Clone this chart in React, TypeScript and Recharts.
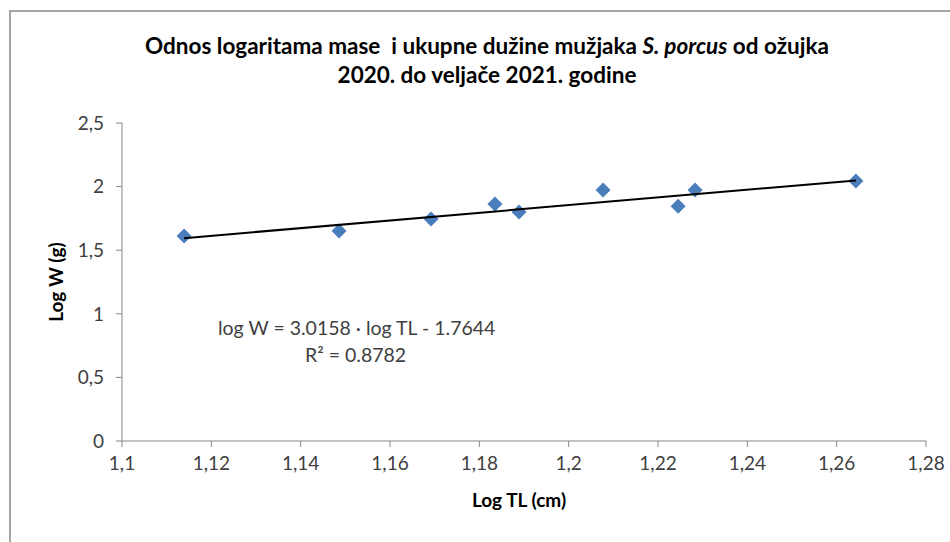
import React from 'react';
import { ScatterChart, Scatter, XAxis, YAxis } from 'recharts';

const logTL = [1.1139, 1.1486, 1.1692, 1.1835, 1.1889, 1.2077, 1.2245, 1.2283, 1.2643];
const logW = [1.611, 1.651, 1.745, 1.863, 1.8, 1.973, 1.846, 1.973, 2.044];
const xTicks = [1.1, 1.12, 1.14, 1.16, 1.18, 1.2, 1.22, 1.24, 1.26, 1.28];
const yTicks = [0, 0.5, 1, 1.5, 2, 2.5];

// Excel linear trendline coefficients, as printed on the chart
const slope = 3.0158;
const intercept = -1.7644;

const points = logTL.map((x, i) => ({ x, y: logW[i] }));
const trendX = [Math.min(...logTL), Math.max(...logTL)];
const trend = trendX.map((x) => ({ x, y: slope * x + intercept }));

const font = 'Lato, "Open Sans", sans-serif';
const comma = (v: number) => String(v).replace('.', ',');

const Diamond = (props: any) => {
    const { cx, cy } = props;
    const r = 7.5;
    return (
        <polygon
            points={`${cx},${cy - r} ${cx + r},${cy} ${cx},${cy + r} ${cx - r},${cy}`}
            fill="#4a7ebb"
        />
    );
};

export default function App() {
    return (
        <div style={{ position: 'absolute', left: 0, top: 0, width: 950, height: 542, background: '#fff', fontFamily: font }}>
            <div style={{ position: 'absolute', left: 10, top: 10, width: 940, height: 2, background: '#a6a6a6' }} />
            <div style={{ position: 'absolute', left: 9, top: 10, width: 2, height: 532, background: '#a6a6a6' }} />
            <div style={{ position: 'absolute', left: 0, top: 31, width: 974, textAlign: 'center', fontWeight: 700, fontSize: 22.5, lineHeight: '29px', color: '#000' }}>
                Odnos logaritama mase&nbsp; i ukupne dužine mužjaka <i>S. porcus</i> od ožujka
                <br />
                2020. do veljače 2021. godine
            </div>
            <ScatterChart
                width={950}
                height={542}
                margin={{ top: 123, right: 24, bottom: 71, left: 82 }}
                style={{ position: 'absolute', left: 0, top: 0 }}
            >
                <XAxis
                    type="number"
                    dataKey="x"
                    domain={[1.1, 1.28]}
                    ticks={xTicks}
                    tickFormatter={comma}
                    height={30}
                    stroke="#868686"
                    tick={{ fill: '#404040', fontSize: 19, fontFamily: font }}
                    tickSize={6}
                    tickMargin={10}
                    allowDataOverflow
                />
                <YAxis
                    type="number"
                    dataKey="y"
                    domain={[0, 2.5]}
                    ticks={yTicks}
                    tickFormatter={comma}
                    width={40}
                    stroke="#868686"
                    tick={{ fill: '#404040', fontSize: 19, fontFamily: font }}
                    tickSize={6}
                    tickMargin={12}
                />
                <Scatter data={points} shape={Diamond} isAnimationActive={false} />
                <Scatter
                    data={trend}
                    line={{ stroke: '#000', strokeWidth: 2 }}
                    shape={() => null}
                    isAnimationActive={false}
                />
                <text x={519} y={507} textAnchor="middle" fontWeight={700} fontSize={19} fontFamily={font} fill="#000">
                    Log TL (cm)
                </text>
                <text
                    x={63}
                    y={282}
                    textAnchor="middle"
                    fontWeight={700}
                    fontSize={19}
                    fontFamily={font}
                    fill="#000"
                    transform="rotate(-90 63 282)"
                >
                    Log W (g)
                </text>
                <text x={218} y={335} fontSize={19.5} fontFamily={font} fill="#404040">
                    log W = 3.0158 · log TL - 1.7644
                </text>
                <text x={305} y={362} fontSize={19.5} fontFamily={font} fill="#404040">
                    R² = 0.8782
                </text>
            </ScatterChart>
        </div>
    );
}
